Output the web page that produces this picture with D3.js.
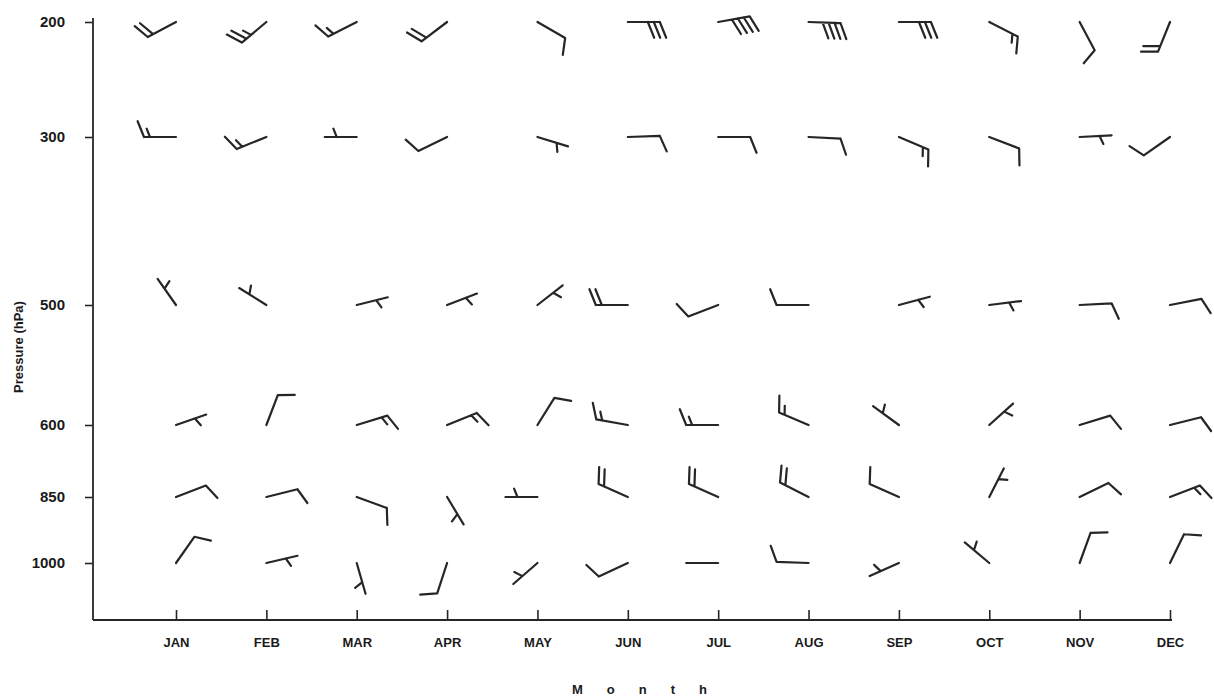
<!DOCTYPE html>
<html>
<head>
<meta charset="utf-8">
<script src="https://cdn.jsdelivr.net/npm/d3@7"></script>
<style>
  body { margin: 0; background: #fff; }
  svg { display: block; }
</style>
</head>
<body>
<svg id="chart" width="1214" height="698"></svg>
<script>
// Monthly mean wind at standard pressure levels.
// Direction = bearing the wind blows from (degrees), speed in knots.
const months = ["JAN", "FEB", "MAR", "APR", "MAY", "JUN", "JUL", "AUG", "SEP", "OCT", "NOV", "DEC"];
const levels = [200, 300, 500, 600, 850, 1000];

const dir200 = [242, 230, 243, 233, 120, 90, 80, 92, 90, 117, 152, 202];
const spd200 = [20, 25, 15, 20, 10, 30, 40, 40, 30, 15, 10, 20];

const dir300 = [270, 248, 270, 244, 107, 88, 90, 93, 113, 111, 87, 235];
const spd300 = [15, 15, 5, 10, 5, 10, 10, 10, 15, 10, 5, 10];

const dir500 = [325, 302, 76, 69, 52, 270, 249, 270, 75, 83, 87, 79];
const spd500 = [5, 5, 5, 5, 5, 20, 10, 10, 5, 5, 10, 10];

const dir600 = [71, 21, 73, 68, 32, 280, 270, 293, 306, 48, 73, 76];
const spd600 = [5, 10, 15, 15, 10, 15, 15, 15, 5, 5, 10, 10];

const dir850 = [69, 76, 110, 149, 270, 294, 294, 297, 294, 27, 64, 69];
const spd850 = [10, 10, 10, 5, 5, 20, 20, 20, 10, 5, 10, 15];

const dir1000 = [35, 77, 164, 198, 229, 245, 270, 272, 246, 310, 20, 26];
const spd1000 = [10, 5, 5, 10, 5, 10, 2, 10, 5, 5, 10, 10];

const dirRows = [dir200, dir300, dir500, dir600, dir850, dir1000];
const spdRows = [spd200, spd300, spd500, spd600, spd850, spd1000];

const obs = [];
levels.forEach((p, i) => {
  months.forEach((m, j) => {
    obs.push({ level: p, month: m, dir: dirRows[i][j], speed: spdRows[i][j] });
  });
});

const svg = d3.select("#chart");
const ink = "#262626";

// Month axis and (non-uniform) pressure axis
const x = d3.scalePoint().domain(months).range([176, 1170]);
const y = d3.scaleLinear().domain(levels).range([22, 137, 305, 425, 497, 563]);

const axisLeftX = 93;
const axisBottomY = 620;
const axisTopY = 18;

// Y axis
const yAxis = d3.axisLeft(y).tickValues(levels).tickSize(8).tickPadding(20).tickFormat(d3.format("d"));
const gy = svg.append("g").attr("transform", `translate(${axisLeftX},0)`).call(yAxis);
gy.select(".domain").remove();
gy.selectAll(".tick line").attr("stroke", ink).attr("stroke-width", 1.6);
gy.selectAll(".tick text")
  .attr("fill", "#1a1a1a")
  .style("font-family", "'Liberation Sans', Arial, sans-serif")
  .style("font-size", "15px")
  .style("font-weight", "bold");

svg.append("line")
  .attr("x1", axisLeftX).attr("x2", axisLeftX)
  .attr("y1", axisTopY).attr("y2", axisBottomY)
  .attr("stroke", ink).attr("stroke-width", 1.8);

// X axis
const xAxis = d3.axisBottom(x).tickSize(-10).tickPadding(18);
const gx = svg.append("g").attr("transform", `translate(0,${axisBottomY})`).call(xAxis);
gx.select(".domain").remove();
gx.selectAll(".tick line").attr("stroke", ink).attr("stroke-width", 1.6);
gx.selectAll(".tick text")
  .attr("fill", "#1a1a1a")
  .style("font-family", "'Liberation Sans', Arial, sans-serif")
  .style("font-size", "13px")
  .style("font-weight", "600");

svg.append("line")
  .attr("x1", axisLeftX).attr("x2", x("DEC") + 2)
  .attr("y1", axisBottomY).attr("y2", axisBottomY)
  .attr("stroke", ink).attr("stroke-width", 1.8);

// Axis titles
svg.append("text")
  .attr("transform", `translate(23,${(axisTopY + axisBottomY) / 2 + 28}) rotate(-90)`)
  .attr("text-anchor", "middle")
  .attr("fill", "#1a1a1a")
  .style("font-family", "'Liberation Sans', Arial, sans-serif")
  .style("font-size", "13px")
  .style("font-weight", "600")
  .text("Pressure (hPa)");

svg.append("text")
  .attr("x", 572).attr("y", 694)
  .attr("fill", "#1a1a1a")
  .style("font-family", "'Liberation Sans', Arial, sans-serif")
  .style("font-size", "13px")
  .style("font-weight", "bold")
  .style("letter-spacing", "24px")
  .text("Month");

// Wind barbs: shaft points toward the direction the wind blows from,
// feathers at the outer end, drawn on the clockwise side of the shaft.
const shaftLen = 32;
const fullLen = 17;
const halfLen = 9;
const featherGap = 6;
const featherTurn = 68;

function unit(bearing) {
  const r = bearing * Math.PI / 180;
  return [Math.sin(r), -Math.cos(r)];
}

function barbPath(d) {
  const u = unit(d.dir);
  const v = unit(d.dir + featherTurn);
  const p = d3.path();
  p.moveTo(0, 0);
  p.lineTo(u[0] * shaftLen, u[1] * shaftLen);
  let rest = Math.round(d.speed / 5) * 5;
  const full = Math.floor(rest / 10);
  const half = (rest - full * 10) >= 5 ? 1 : 0;
  for (let i = 0; i < full; i++) {
    const s = shaftLen - i * featherGap;
    p.moveTo(u[0] * s, u[1] * s);
    p.lineTo(u[0] * s + v[0] * fullLen, u[1] * s + v[1] * fullLen);
  }
  if (half) {
    const s = full === 0 ? shaftLen - 12 : shaftLen - full * featherGap;
    p.moveTo(u[0] * s, u[1] * s);
    p.lineTo(u[0] * s + v[0] * halfLen, u[1] * s + v[1] * halfLen);
  }
  return p.toString();
}

svg.append("g")
  .selectAll("path")
  .data(obs)
  .join("path")
  .attr("transform", d => `translate(${x(d.month)},${y(d.level)})`)
  .attr("d", barbPath)
  .attr("fill", "none")
  .attr("stroke", ink)
  .attr("stroke-width", 2.2)
  .attr("stroke-linecap", "round")
  .attr("stroke-linejoin", "round");
</script>
</body>
</html>
